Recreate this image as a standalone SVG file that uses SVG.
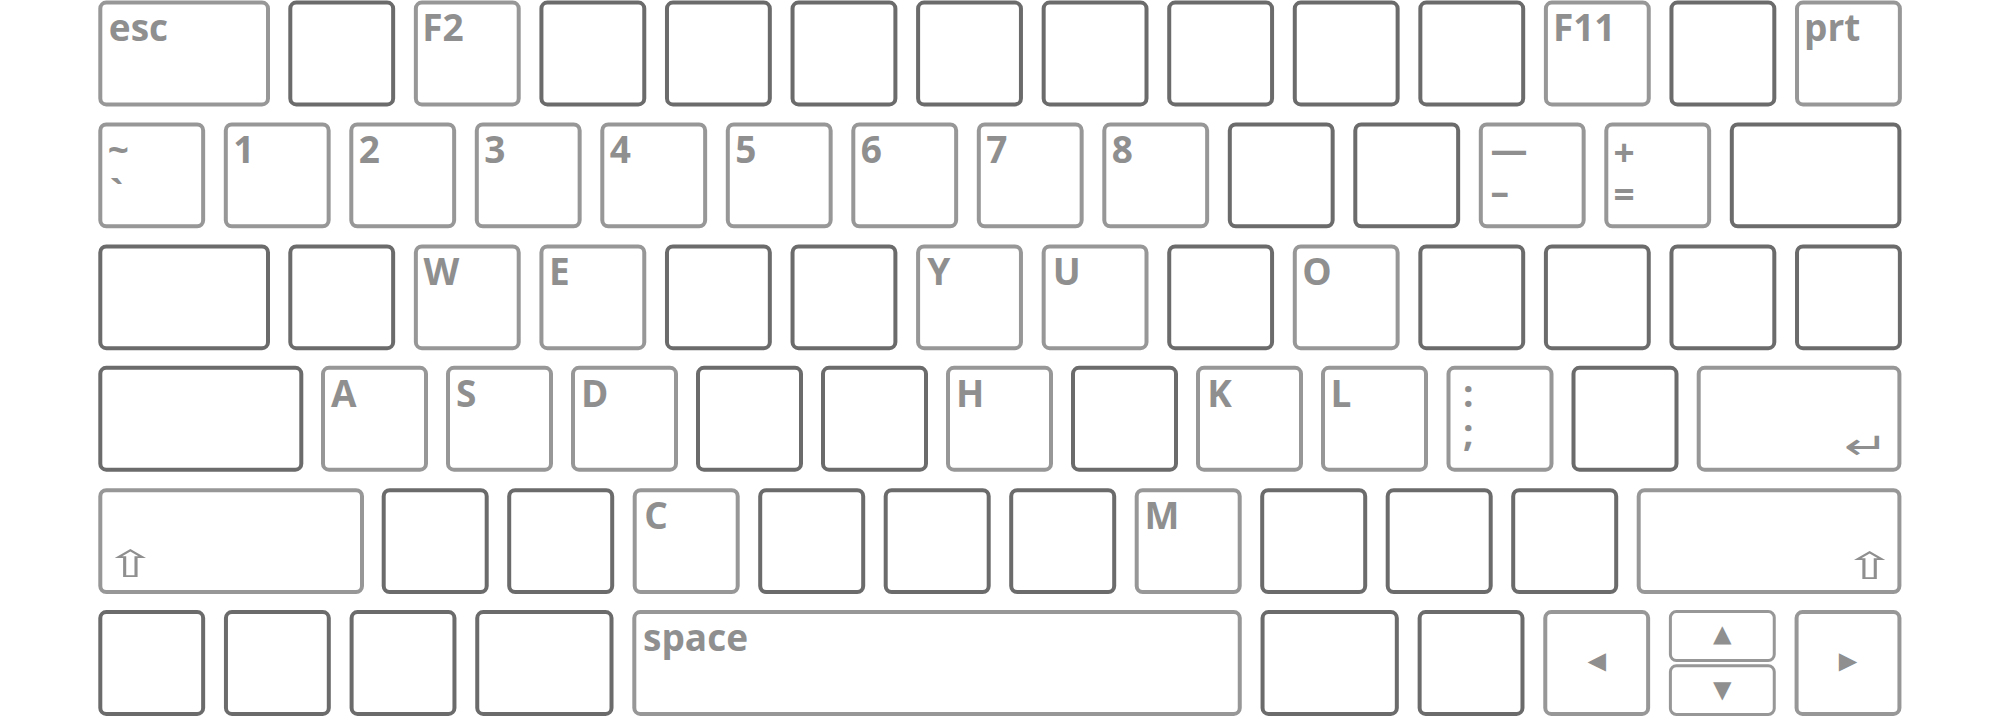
<svg xmlns="http://www.w3.org/2000/svg" width="2000" height="717" viewBox="0 0 2000 717">
<style>
rect{fill:#ffffff;stroke-width:4}
.l rect{stroke:#979797}
.d rect{stroke:#6b6b6b}
.h rect{stroke-width:3}
text{font-family:"Open Sans","Liberation Sans",sans-serif;font-weight:700;font-size:37px;fill:#8f8f8f}
text.s{font-family:"DejaVu Sans",sans-serif;font-weight:400}
</style>
<rect x="0" y="0" width="2000" height="717" style="stroke:none"/>
<g id="row1">
<g id="key-esc" class="l"><rect x="100.3" y="2.6" width="167.7" height="101.8" rx="6"/><text x="108.8" y="41.1">esc</text></g>
<g id="key-f1" class="d"><rect x="290.3" y="2.6" width="102.85" height="101.8" rx="6"/></g>
<g id="key-f2" class="l"><rect x="415.86" y="2.6" width="102.85" height="101.8" rx="6"/><text x="422.2" y="41.1">F2</text></g>
<g id="key-f3" class="d"><rect x="541.42" y="2.6" width="102.85" height="101.8" rx="6"/></g>
<g id="key-f4" class="d"><rect x="666.98" y="2.6" width="102.85" height="101.8" rx="6"/></g>
<g id="key-f5" class="d"><rect x="792.54" y="2.6" width="102.85" height="101.8" rx="6"/></g>
<g id="key-f6" class="d"><rect x="918.1" y="2.6" width="102.85" height="101.8" rx="6"/></g>
<g id="key-f7" class="d"><rect x="1043.66" y="2.6" width="102.85" height="101.8" rx="6"/></g>
<g id="key-f8" class="d"><rect x="1169.22" y="2.6" width="102.85" height="101.8" rx="6"/></g>
<g id="key-f9" class="d"><rect x="1294.78" y="2.6" width="102.85" height="101.8" rx="6"/></g>
<g id="key-f10" class="d"><rect x="1420.34" y="2.6" width="102.85" height="101.8" rx="6"/></g>
<g id="key-f11" class="l"><rect x="1545.9" y="2.6" width="102.85" height="101.8" rx="6"/><text x="1552.9" y="41.1">F11</text></g>
<g id="key-f12" class="d"><rect x="1671.46" y="2.6" width="102.85" height="101.8" rx="6"/></g>
<g id="key-prt" class="l"><rect x="1797.02" y="2.6" width="102.85" height="101.8" rx="6"/><text x="1804" y="41.1">prt</text></g>
</g>
<g id="row2">
<g id="key-tilde" class="l"><rect x="100.3" y="124.5" width="102.85" height="101.8" rx="6"/><text><tspan x="107.8" y="163">~</tspan><tspan x="109.8" y="207">`</tspan></text></g>
<g id="key-1" class="l"><rect x="225.8" y="124.5" width="102.85" height="101.8" rx="6"/><text x="233.3" y="163">1</text></g>
<g id="key-2" class="l"><rect x="351.3" y="124.5" width="102.85" height="101.8" rx="6"/><text x="358.8" y="163">2</text></g>
<g id="key-3" class="l"><rect x="476.8" y="124.5" width="102.85" height="101.8" rx="6"/><text x="484.3" y="163">3</text></g>
<g id="key-4" class="l"><rect x="602.3" y="124.5" width="102.85" height="101.8" rx="6"/><text x="609.8" y="163">4</text></g>
<g id="key-5" class="l"><rect x="727.8" y="124.5" width="102.85" height="101.8" rx="6"/><text x="735.3" y="163">5</text></g>
<g id="key-6" class="l"><rect x="853.3" y="124.5" width="102.85" height="101.8" rx="6"/><text x="860.8" y="163">6</text></g>
<g id="key-7" class="l"><rect x="978.8" y="124.5" width="102.85" height="101.8" rx="6"/><text x="986.3" y="163">7</text></g>
<g id="key-8" class="l"><rect x="1104.3" y="124.5" width="102.85" height="101.8" rx="6"/><text x="1111.8" y="163">8</text></g>
<g id="key-9" class="d"><rect x="1229.8" y="124.5" width="102.85" height="101.8" rx="6"/></g>
<g id="key-0" class="d"><rect x="1355.3" y="124.5" width="102.85" height="101.8" rx="6"/></g>
<g id="key-minus" class="l"><rect x="1480.8" y="124.5" width="102.85" height="101.8" rx="6"/><text><tspan x="1490.5" y="163">—</tspan><tspan x="1490.5" y="205">–</tspan></text></g>
<g id="key-equal" class="l"><rect x="1606.3" y="124.5" width="102.85" height="101.8" rx="6"/><text><tspan x="1613.6" y="166">+</tspan><tspan x="1613.6" y="208">=</tspan></text></g>
<g id="key-backspace" class="d"><rect x="1731.8" y="124.5" width="167.6" height="101.8" rx="6"/></g>
</g>
<g id="row3">
<g id="key-tab" class="d"><rect x="100.3" y="246.4" width="167.7" height="101.8" rx="6"/></g>
<g id="key-q" class="d"><rect x="290.3" y="246.4" width="102.85" height="101.8" rx="6"/></g>
<g id="key-w" class="l"><rect x="415.86" y="246.4" width="102.85" height="101.8" rx="6"/><text x="423.4" y="284.9">W</text></g>
<g id="key-e" class="l"><rect x="541.42" y="246.4" width="102.85" height="101.8" rx="6"/><text x="548.9" y="284.9">E</text></g>
<g id="key-r" class="d"><rect x="666.98" y="246.4" width="102.85" height="101.8" rx="6"/></g>
<g id="key-t" class="d"><rect x="792.54" y="246.4" width="102.85" height="101.8" rx="6"/></g>
<g id="key-y" class="l"><rect x="918.1" y="246.4" width="102.85" height="101.8" rx="6"/><text x="927.3" y="284.9">Y</text></g>
<g id="key-u" class="l"><rect x="1043.66" y="246.4" width="102.85" height="101.8" rx="6"/><text x="1052.7" y="284.9">U</text></g>
<g id="key-i" class="d"><rect x="1169.22" y="246.4" width="102.85" height="101.8" rx="6"/></g>
<g id="key-o" class="l"><rect x="1294.78" y="246.4" width="102.85" height="101.8" rx="6"/><text x="1302.3" y="284.9">O</text></g>
<g id="key-p" class="d"><rect x="1420.34" y="246.4" width="102.85" height="101.8" rx="6"/></g>
<g id="key-lbracket" class="d"><rect x="1545.9" y="246.4" width="102.85" height="101.8" rx="6"/></g>
<g id="key-rbracket" class="d"><rect x="1671.46" y="246.4" width="102.85" height="101.8" rx="6"/></g>
<g id="key-backslash" class="d"><rect x="1797.02" y="246.4" width="102.85" height="101.8" rx="6"/></g>
</g>
<g id="row4">
<g id="key-caps" class="d"><rect x="100.3" y="367.8" width="201" height="101.9" rx="6"/></g>
<g id="key-a" class="l"><rect x="323" y="367.8" width="103" height="101.9" rx="6"/><text x="331" y="406.8">A</text></g>
<g id="key-s" class="l"><rect x="448" y="367.8" width="103" height="101.9" rx="6"/><text x="456" y="406.8">S</text></g>
<g id="key-d" class="l"><rect x="573" y="367.8" width="103" height="101.9" rx="6"/><text x="581" y="406.8">D</text></g>
<g id="key-f" class="d"><rect x="698" y="367.8" width="103" height="101.9" rx="6"/></g>
<g id="key-g" class="d"><rect x="823" y="367.8" width="103" height="101.9" rx="6"/></g>
<g id="key-h" class="l"><rect x="948" y="367.8" width="103" height="101.9" rx="6"/><text x="956" y="406.8">H</text></g>
<g id="key-j" class="d"><rect x="1073" y="367.8" width="103" height="101.9" rx="6"/></g>
<g id="key-k" class="l"><rect x="1198" y="367.8" width="103" height="101.9" rx="6"/><text x="1207.2" y="406.8">K</text></g>
<g id="key-l" class="l"><rect x="1323" y="367.8" width="103" height="101.9" rx="6"/><text x="1330.4" y="406.8">L</text></g>
<g id="key-semicolon" class="l"><rect x="1448.5" y="367.8" width="103" height="101.9" rx="6"/><text><tspan x="1463" y="406.8">:</tspan><tspan x="1463" y="446">;</tspan></text></g>
<g id="key-quote" class="d"><rect x="1573.5" y="367.8" width="103" height="101.9" rx="6"/></g>
<g id="key-enter" class="l"><rect x="1698.7" y="367.8" width="200.7" height="101.9" rx="6"/><text class="s" transform="translate(1866.5,459) scale(1.45,1)" x="0" y="0" font-size="75" text-anchor="middle">↵</text></g>
</g>
<g id="row5">
<g id="key-lshift" class="l"><rect x="100.3" y="490.2" width="261.7" height="101.8" rx="6"/><text class="s" transform="translate(130.3,576.5) scale(1.7,1)" x="0" y="0" font-size="27" text-anchor="middle">⇧</text></g>
<g id="key-z" class="d"><rect x="383.7" y="490.2" width="103" height="101.8" rx="6"/></g>
<g id="key-x" class="d"><rect x="509.2" y="490.2" width="103" height="101.8" rx="6"/></g>
<g id="key-c" class="l"><rect x="634.7" y="490.2" width="103" height="101.8" rx="6"/><text x="644.3" y="528.7">C</text></g>
<g id="key-v" class="d"><rect x="760.2" y="490.2" width="103" height="101.8" rx="6"/></g>
<g id="key-b" class="d"><rect x="885.7" y="490.2" width="103" height="101.8" rx="6"/></g>
<g id="key-n" class="d"><rect x="1011.2" y="490.2" width="103" height="101.8" rx="6"/></g>
<g id="key-m" class="l"><rect x="1136.7" y="490.2" width="103" height="101.8" rx="6"/><text x="1144.4" y="528.7">M</text></g>
<g id="key-comma" class="d"><rect x="1262.2" y="490.2" width="103" height="101.8" rx="6"/></g>
<g id="key-period" class="d"><rect x="1387.7" y="490.2" width="103" height="101.8" rx="6"/></g>
<g id="key-slash" class="d"><rect x="1513.2" y="490.2" width="103" height="101.8" rx="6"/></g>
<g id="key-rshift" class="l"><rect x="1638.7" y="490.2" width="260.7" height="101.8" rx="6"/><text class="s" transform="translate(1869.5,579) scale(1.7,1)" x="0" y="0" font-size="27" text-anchor="middle">⇧</text></g>
</g>
<g id="row6">
<g id="key-ctrl" class="d"><rect x="100.3" y="612.1" width="102.85" height="101.8" rx="6"/></g>
<g id="key-fn" class="d"><rect x="225.95" y="612.1" width="102.85" height="101.8" rx="6"/></g>
<g id="key-win" class="d"><rect x="351.6" y="612.1" width="102.85" height="101.8" rx="6"/></g>
<g id="key-lalt" class="d"><rect x="477.25" y="612.1" width="134.26" height="101.8" rx="6"/></g>
<g id="key-space" class="l"><rect x="634.31" y="612.1" width="605.45" height="101.8" rx="6"/><text x="643" y="650.6">space</text></g>
<g id="key-ralt" class="d"><rect x="1262.56" y="612.1" width="134.26" height="101.8" rx="6"/></g>
<g id="key-rctrl" class="d"><rect x="1419.63" y="612.1" width="102.85" height="101.8" rx="6"/></g>
<g id="key-left" class="l"><rect x="1545.28" y="612.1" width="102.85" height="101.8" rx="6"/><text class="s" x="1596.7" y="671.5" font-size="30" text-anchor="middle">◂</text></g>
<g id="key-up" class="l h"><rect x="1670.4" y="611.6" width="103.85" height="48.9" rx="6"/><text class="s" x="1722.3" y="644.5" font-size="30" text-anchor="middle">▴</text></g>
<g id="key-down" class="l h"><rect x="1670.4" y="665.7" width="103.85" height="48.7" rx="6"/><text class="s" x="1722.3" y="700.5" font-size="30" text-anchor="middle">▾</text></g>
<g id="key-right" class="l"><rect x="1796.58" y="612.1" width="102.85" height="101.8" rx="6"/><text class="s" x="1848" y="671.5" font-size="30" text-anchor="middle">▸</text></g>
</g>
</svg>
